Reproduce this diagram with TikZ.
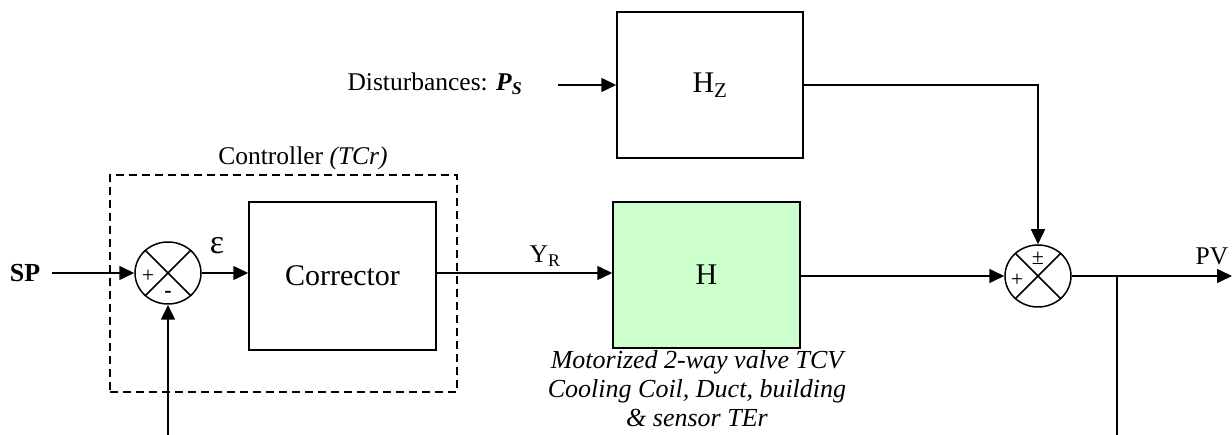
\documentclass[tikz,border=0pt]{standalone}
\usepackage{fontspec}
\setmainfont{Liberation Serif}
\usepackage{tikz}
\usetikzlibrary{arrows.meta,shapes.geometric,calc}
\definecolor{hgreen}{HTML}{CCFFCC}

\begin{document}
\begin{tikzpicture}[x=1pt,y=-1pt,line width=1.5pt,
  blk/.style={draw,line width=1.5pt,inner sep=0pt,font=\fontsize{30}{36}\selectfont},
  sumj/.style={draw,ellipse,line width=1.5pt,minimum width=66pt,minimum height=62pt,inner sep=0pt},
  arr/.style={-{Triangle[length=15pt,width=14pt]}},
  lbl/.style={inner sep=0pt,font=\fontsize{25.5}{30}\selectfont},
  sgn/.style={inner sep=0pt,font=\fontsize{22}{24}\selectfont}]
  \useasboundingbox (0,0) rectangle (1232,435);
  % controller group
  \node[draw,dashed,dash pattern=on 8pt off 5pt,minimum width=347pt,minimum height=217pt,inner sep=0pt] (ctrl) at (283.5,283.5) {};
  \node[lbl] (ctrllbl) at (303,158) {Controller \textit{(TCr)}};
  % blocks
  \node[blk,minimum width=187pt,minimum height=148pt] (corr) at (342.5,276) {Corrector};
  \node[blk,fill=hgreen,minimum width=187pt,minimum height=146pt] (h) at (706.5,275) {H};
  \node[blk,minimum width=186pt,minimum height=146pt] (hz) at (710,85) {H\textsubscript{Z}};
  \node[lbl,font=\fontsize{26}{29}\selectfont\itshape,align=center] (hcap) at (697,389) {Motorized 2-way valve TCV\\Cooling Coil, Duct, building\\\& sensor TEr};
  % summing junctions
  \node[sumj] (s1) at (168,273) {};
  \draw[line width=1.5pt] (s1.45) -- (s1.225) (s1.135) -- (s1.315);
  \node[sgn] (s1p) at (148,276) {+};
  \node[sgn,font=\fontsize{22}{24}\selectfont\bfseries] (s1m) at (168,294) {-};
  \node[sumj] (s2) at (1038,276) {};
  \draw[line width=1.5pt] (s2.45) -- (s2.225) (s2.135) -- (s2.315);
  \node[sgn] (s2p) at (1017,280) {+};
  \node[sgn] (s2pm) at (1038,258) {±};
  % signals
  \node[lbl,font=\fontsize{26}{30}\selectfont\bfseries,anchor=east] (sp) at (41,273) {SP};
  \node[lbl,font=\fontsize{34}{38}\selectfont] (eps) at (217,246) {ε};
  \node[lbl] (yr) at (545,256) {Y\textsubscript{R}};
  \node[lbl,anchor=east] (dist) at (523,84) {Disturbances: \textbf{\textit{P\textsubscript{S}}}};
  \node[lbl,anchor=east] (pv) at (1229,256) {PV};
  \coordinate (pvend) at (1232,276);
  \coordinate (tap) at (1117,276);
  \coordinate (fbR) at (1117,435);
  \coordinate (fbL) at (168,435);
  \draw[arr] ([xshift=11pt]sp.east) -- (s1.west);
  \draw[arr] (s1.east) -- (corr.west |- s1.east);
  \draw[arr] (corr.east |- s1.east) -- (h.west |- s1.east);
  \draw[arr] (h.east |- s2.west) -- (s2.west);
  \draw[arr] ([xshift=35pt]dist.east |- hz.west) -- (hz.west);
  \draw[arr] (hz.east) -| (s2.north);
  \draw[arr] (s2.east) -- (pvend);
  \draw (tap) -- (fbR);
  \draw[arr] (fbL) -- (s1.south);
\end{tikzpicture}
\end{document}
